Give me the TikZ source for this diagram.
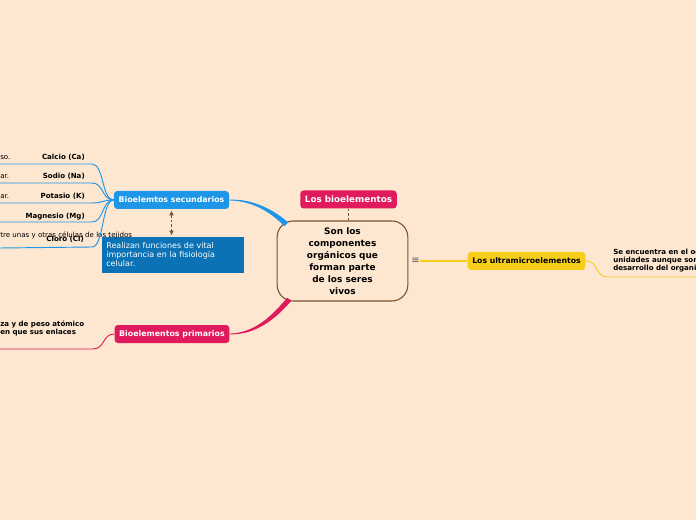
\documentclass[tikz,border=0pt]{standalone}
\usepackage{fontspec}
\setmainfont{DejaVu Sans}
\usetikzlibrary{positioning, calc, arrows.meta}
\definecolor{fondo}{HTML}{FDE7D0}
\definecolor{azul}{HTML}{1E96E8}
\definecolor{azuloscuro}{HTML}{0A72B5}
\definecolor{rosa}{HTML}{E01A5C}
\definecolor{amarillo}{HTML}{F7CD1B}
\definecolor{marron}{HTML}{7A5230}

\begin{document}
\begin{tikzpicture}[x=0.75pt, y=-0.75pt,
                topic/.style={rectangle, rounded corners=2.5pt, minimum height=13.5pt, inner xsep=3.5pt, inner ysep=0pt, font=\fontsize{5.9}{7}\selectfont\bfseries},
                mainbox/.style={draw=marron, thick, rectangle, rounded corners=12pt, minimum width=98pt, minimum height=60pt, align=center, font=\fontsize{6.7}{9}\selectfont\bfseries},
                notebox/.style={rectangle, fill=azuloscuro, text=white, minimum height=27pt, text width=100pt, align=left, inner xsep=3.5pt, font=\fontsize{6}{6.75}\selectfont},
                leaf/.style={inner sep=0pt, font=\fontsize{5.3}{6}\selectfont\bfseries},
                frag/.style={inner sep=0pt, font=\fontsize{5.3}{6}\selectfont},
                twig/.style={line width=0.7pt},
                linkline/.style={marron, dash pattern=on 2pt off 1.5pt, line width=0.6pt}
            ]

            \useasboundingbox (0,0) rectangle (696,520);
            \fill[fondo] (0,0) rectangle (696,520);

            % Knoten
            \node[mainbox] (centro) at (342.5,261) {Son los\\componentes\\orgánicos que\\forman parte\\de los seres\\vivos};
            \node[topic, fill=rosa, text=white, font=\fontsize{6.6}{8}\selectfont\bfseries] (bioel) at (348.5,199.5) {Los bioelementos};
            \node[topic, fill=azul, text=white] (secund) at (171.5,200) {Bioelemtos secundarios};
            \node[topic, fill=rosa, text=white] (primar) at (172,334) {Bioelementos primarios};
            \node[topic, fill=amarillo, text=black, font=\fontsize{5.8}{7}\selectfont\bfseries] (ultra) at (526.5,261) {Los ultramicroelementos};
            \node[notebox] (nota) at (173,255) {Realizan funciones de vital\\importancia en la fisiología\\celular.};
            \node[inner sep=0pt, text=gray!70!black, font=\fontsize{7.5}{8}\selectfont] (icono) at (415.5,261) {≡};

            % Blaetter
            \node[leaf, anchor=base east] (calcio) at (85,160) {Calcio (Ca)};
            \node[leaf, anchor=base east] (sodio) at (85,179) {Sodio (Na)};
            \node[leaf, anchor=base east] (potasio) at (85,199) {Potasio (K)};
            \node[leaf, anchor=base east] (magnesio) at (85,218.5) {Magnesio (Mg)};
            \node[leaf, anchor=base east] (cloro) at (84,242) {Cloro (Cl)};
            \node[frag, anchor=base west] (calcioT) at (0,160) {so.};
            \node[frag, anchor=base west] (sodioT) at (0,179) {ar.};
            \node[frag, anchor=base west] (potasioT) at (0,199) {ar.};
            \node[frag, anchor=base west] (cloroT) at (0,238) {tre unas y otras células de los tejidos};
            \node[leaf, anchor=north west, align=left] (primT) at (0,321) {za y de peso atómico\\en que sus enlaces};
            \node[leaf, anchor=north west, align=left] (ultraT) at (613,248.5) {Se encuentra en el oc\\unidades aunque son\\desarrollo del organi};

            % Enden der Linien
            \coordinate (calcioEnd) at (92,164);
            \coordinate (sodioEnd) at (92,183);
            \coordinate (potasioEnd) at (92,203);
            \coordinate (magnesioEnd) at (92,222);
            \coordinate (cloroEnd) at (92,247);
            \coordinate (primEnd) at (93,349);
            \coordinate (ultraEnd) at (608,277);
            \coordinate (azulEnd) at (286,224);
            \coordinate (rosaEnd) at (289,299.5);

            % Kanten
            \filldraw[azul, line width=0.6pt] (secund.east) .. controls (252,199.5) and (271,208.5) .. ($(azulEnd)+(1.6,-1.6)$) -- ($(azulEnd)+(-1.6,1.6)$) .. controls (270,211) and (252,200.5) .. (secund.east) -- cycle;
            \filldraw[rosa, line width=0.6pt] (primar.east) .. controls (256,334.5) and (276,318) .. ($(rosaEnd)+(1.8,1.2)$) -- ($(rosaEnd)+(-1.8,-1.2)$) .. controls (274,314) and (256,333.5) .. (primar.east) -- cycle;
            \draw[amarillo, line width=1.8pt] (icono.east) -- (ultra.west);
            \draw[linkline] (bioel.south) -- (bioel.south |- centro.north);
            \draw[linkline, {Latex[length=3.5pt,width=3.5pt]}-{Latex[length=3.5pt,width=3.5pt]}] ([yshift=-1pt]secund.south) -- ([yshift=1pt]secund.south |- nota.north);

            \draw[twig, azul] (secund.west) .. controls +(-12,0) and +(12,0) .. (calcioEnd) -- ++(-92,0);
            \draw[twig, azul] (secund.west) .. controls +(-12,0) and +(12,0) .. (sodioEnd) -- ++(-92,0);
            \draw[twig, azul] (secund.west) .. controls +(-12,0) and +(12,0) .. (potasioEnd) -- ++(-92,0);
            \draw[twig, azul] (secund.west) .. controls +(-12,0) and +(12,0) .. (magnesioEnd) -- ++(-92,0);
            \draw[twig, azul] (secund.west) .. controls +(-12,0) and +(12,0) .. (cloroEnd) -- ++(-92,1);
            \draw[twig, rosa] (primar.west) .. controls +(-12,0) and +(12,0) .. (primEnd) -- ++(-93,0);
            \draw[twig, amarillo] (ultra.east) .. controls +(14,0) and +(-14,0) .. (ultraEnd) -- ++(90,0);

        \end{tikzpicture}
\end{document}
